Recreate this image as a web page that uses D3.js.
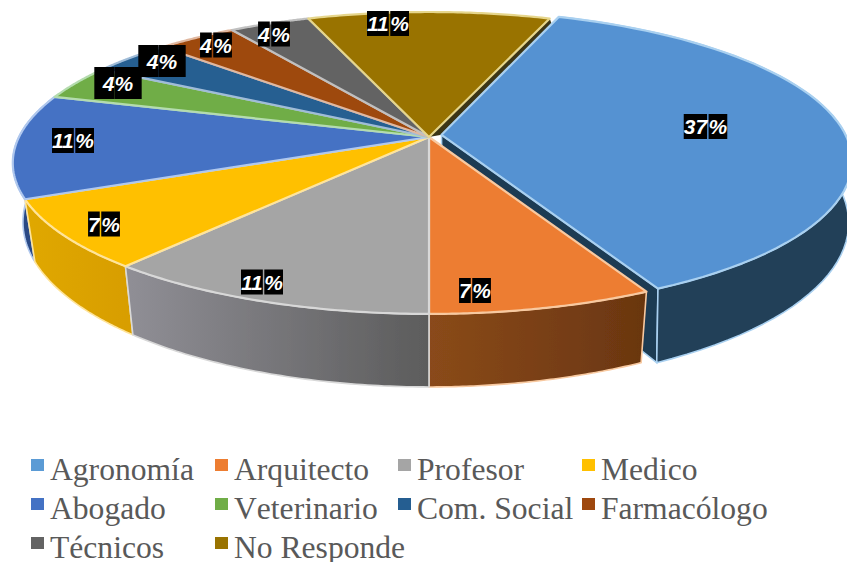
<!DOCTYPE html>
<html><head><meta charset="utf-8">
<script src="https://cdn.jsdelivr.net/npm/d3@7/dist/d3.min.js"></script>
<style>html,body{margin:0;background:#fff}svg{display:block}</style></head>
<body><script>
const categories = ["Agronomía","Arquitecto","Profesor","Medico","Abogado","Veterinario","Com. Social","Farmacólogo","Técnicos","No Responde"];
const values = [37.0,7.4,11.1,7.4,11.1,3.7,3.7,3.7,3.7,11.1];
const colors = ["#5592d2","#ed7d31","#a5a5a5","#ffc000","#4472c4","#70ad47","#255e91","#9e480e","#636363","#997300"];
const legendColors = ["#5b9bd5","#ed7d31","#a5a5a5","#ffc000","#4472c4","#70ad47","#255e91","#9e480e","#636363","#997300"];
const edgeColors = ["#a9d0f0","#f8c9a0","#d8d8d8","#ffe49a","#b0c8ee","#b4dcae","#a0bcd8","#e0b8a0","#c0c0c0","#e6d68c"];
const wallStops = [["#213f58","#213f58"],["#8a4a1a","#6a3610"],["#908f96","#5c5c5c"],["#e0a806","#d89e00"],["#2b4a85","#2b4a85"]];
const labelCentres = [[705.5,126.5],[475,290.5],[262,282],[104,224],[73,140.5],[118,83],[162,61],[216,45],[274,34],[388,23.5]];
const labelPad = [[0,0],[0,0],[0,0],[0,0],[0,0],[8.5,3.5],[8.5,3.5],[0,0],[0,0],[0,0]];
const legendColumns = [31,215,398,582];
const legendRows = [459,498,537];

const W=847,H=562;
const svg=d3.select("body").append("svg").attr("width",W).attr("height",H);
const defs=svg.append("defs");
defs.append("filter").attr("id","soft").attr("x","-5%").attr("y","-5%").attr("width","110%").attr("height","110%")
  .append("feGaussianBlur").attr("stdDeviation",0.55);

const pie=d3.pie().sort(null).value(d=>d).startAngle(20*Math.PI/180).endAngle(380*Math.PI/180);
const arcs=pie(values);

// perspective projection of the unit disc
const P=0.172, cx=429;
const upper={b:410,a:146.5,y:137}, lower={b:400,a:160,y:193.7};
const explodeUpper=[0.031,-0.015,0.988], explodeLower=[0.033,0,1];
const offFor=pl=>pl===upper?explodeUpper:explodeLower;
function proj(pl,r,ang,off){
  const u=r*Math.sin(ang)+(off?off[0]:0), v=-r*Math.cos(ang)+(off?off[1]:0), w=1-P*v;
  return [cx+pl.b*(off?off[2]:1)*u/w, pl.y+pl.a*v/w];
}
const line=d3.line();
function rim(pl,a0,a1,off){
  const ang=d3.scaleLinear().domain([0,60]).range([a0,a1]);
  return d3.range(61).map(i=>proj(pl,1,ang(i),off));
}

const g=svg.append("g").attr("filter","url(#soft)");

wallStops.forEach((s,i)=>{
  const d=arcs[i], grad=defs.append("linearGradient").attr("id","wall"+i).attr("gradientUnits","userSpaceOnUse");
  const xs=rim(upper,d.startAngle,d.endAngle).map(p=>p[0]);
  grad.attr("x1",d3.min(xs)).attr("x2",d3.max(xs)).attr("y1",0).attr("y2",0);
  grad.append("stop").attr("offset",0).attr("stop-color",s[0]);
  grad.append("stop").attr("offset",1).attr("stop-color",s[1]);
});

// exposed cut face of the pulled-out slice
const a0=arcs[0];
g.append("path").attr("d",line([proj(upper,0,a0.endAngle,explodeUpper),proj(upper,1,a0.endAngle,explodeUpper),proj(lower,1,a0.endAngle,explodeLower),proj(lower,0,a0.endAngle,explodeLower)])+"Z")
  .attr("fill","#1d3a52").attr("stroke",edgeColors[0]).attr("stroke-width",1.5);

// dark cut face seen through the narrow gap at the back of the pulled-out slice
g.append("path").attr("d",line([proj(upper,0,a0.startAngle),proj(upper,1,a0.startAngle),proj(upper,0.93,a0.startAngle,explodeUpper),proj(upper,0,a0.startAngle,explodeUpper)])+"Z")
  .attr("fill","#3a3414");

// outer walls of the slices that face the viewer
[0,4,1,3,2].forEach(i=>{
  const d=arcs[i], ou=i===0?explodeUpper:null, ol=i===0?explodeLower:null;
  const pts=rim(upper,d.startAngle,d.endAngle,ou).concat(rim(lower,d.startAngle,d.endAngle,ol).reverse());
  g.append("path").attr("d",line(pts)+"Z").attr("fill",`url(#wall${i})`)
   .attr("stroke",edgeColors[i]).attr("stroke-width",1.6).attr("stroke-linejoin","round");
});

// top faces
[1,2,3,4,5,6,7,8,9,0].forEach(i=>{
  const d=arcs[i],o=i===0?explodeUpper:null;
  const pts=[proj(upper,0,d.startAngle,o)].concat(rim(upper,d.startAngle,d.endAngle,o));
  g.append("path").attr("d",line(pts)+"Z").attr("fill",colors[i])
   .attr("stroke",edgeColors[i]).attr("stroke-width",2.2).attr("stroke-linejoin","round");
});

// percentage labels: number and sign sit on separate black boxes
const fmt=d3.format(".0f");
const labels=svg.append("g").style("font","italic bold 21px 'Liberation Sans'");
values.forEach((v,i)=>{
  const parts=[fmt(v),"%"], [lx,ly]=labelCentres[i], [px,py]=labelPad[i];
  const t=labels.append("text").attr("visibility","hidden");
  const widths=parts.map(s=>{t.text(s);return t.node().getComputedTextLength();});
  t.remove();
  const gap=(px?0:1.5), total=d3.sum(widths)+gap;
  let x=lx-total/2;
  parts.forEach((s,k)=>{
    const bw=widths[k];
    labels.append("rect").attr("x",x-(k===0?px:0)).attr("y",ly-12.5-py)
      .attr("width",bw+px).attr("height",25+py*2).attr("fill","#000");
    x+=bw+gap;
  });
  x=lx-total/2;
  parts.forEach((s,k)=>{
    labels.append("text").attr("x",x).attr("y",ly+7.5).attr("fill","#fff").text(s);
    x+=widths[k]+gap;
  });
});
// legend
const legend=svg.append("g");
categories.forEach((c,i)=>{
  const x=legendColumns[i%4], y=legendRows[Math.floor(i/4)];
  legend.append("rect").attr("x",x).attr("y",y).attr("width",13).attr("height",12).attr("fill",legendColors[i]);
  legend.append("text").attr("x",x+19).attr("y",y+21).attr("fill","#595959")
    .style("font","31.6px 'Liberation Serif'").style("font-kerning","none").text(c);
});
</script></body></html>
